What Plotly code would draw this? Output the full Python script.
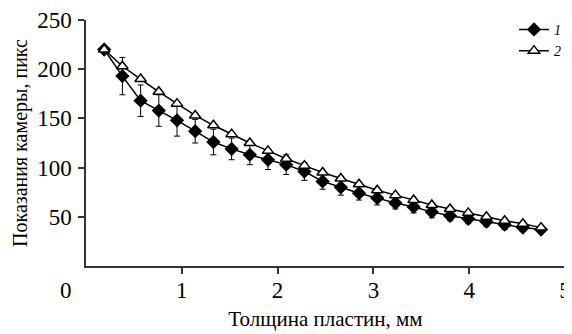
import plotly.graph_objects as go

thickness = [0.19, 0.38, 0.57, 0.76, 0.95, 1.14, 1.33, 1.52, 1.71, 1.90, 2.09, 2.28, 2.47,
             2.66, 2.85, 3.04, 3.23, 3.42, 3.61, 3.80, 3.99, 4.18, 4.37, 4.56, 4.75]
series1 = [220, 193, 168, 158, 148, 137, 126, 119, 113, 108, 103, 96, 86,
           80, 74, 69, 64, 60, 55, 51, 48, 45, 42, 39, 37]
series1_err = [0, 19, 16, 16, 16, 12, 13, 11, 10, 10, 10, 9, 8,
               8, 7, 7, 6, 6, 6, 5, 5, 5, 5, 4, 3]
series2 = [220, 203, 190, 177, 165, 153, 143, 134, 125, 117, 109, 102, 95,
           89, 83, 77, 72, 67, 62, 58, 54, 50, 46, 43, 39]
x_ticks = [1, 2, 3, 4, 5]
y_ticks = [50, 100, 150, 200, 250]

FONT = "Liberation Serif"
# page body has an 8px default margin; compensate so plot area sits at 86..565 x 20..266
W, H = 564, 326
L, R, T, B = 78, 7, 12, 68
PW = W - L - R
fig = go.Figure()
fig.add_trace(go.Scatter(
    x=thickness, y=series1, mode="lines+markers", name="<i>1</i>",
    line=dict(color="black", width=1.5),
    marker=dict(symbol="diamond", size=11, color="black"),
    error_y=dict(type="data", array=series1_err, visible=True, color="black", thickness=1, width=3),
))
fig.add_trace(go.Scatter(
    x=thickness, y=series2, mode="lines+markers", name="<i>2</i>",
    line=dict(color="black", width=1.5),
    marker=dict(symbol="triangle-up", size=10, color="white", line=dict(color="black", width=1.5)),
))
fig.update_layout(
    width=W, height=H,
    margin=dict(l=L, r=R, t=T, b=B, autoexpand=False),
    plot_bgcolor="white", paper_bgcolor="white",
    font=dict(family=FONT, size=21, color="black"),
    showlegend=True,
    legend=dict(x=(514 - 86) / PW, xanchor="left", y=1.025, yanchor="top", bgcolor="rgba(0,0,0,0)",
                font=dict(family=FONT, size=14), tracegroupgap=0, itemwidth=30),
    xaxis=dict(range=[0, 5], tickvals=x_ticks, ticks="outside", ticklen=6, tickwidth=1.5,
               tickcolor="#333", showline=True, linecolor="#333", linewidth=1.5,
               showgrid=False, zeroline=False, ticklabelstandoff=-3, automargin=False,
               tickfont=dict(size=23),
               title=dict(text="Толщина пластин, мм", font=dict(size=21), standoff=9)),
    yaxis=dict(range=[0, 250], tickvals=y_ticks, ticks="outside", ticklen=6, tickwidth=1.5,
               tickcolor="#333", showline=True, linecolor="#333", linewidth=1.5,
               showgrid=False, zeroline=False, ticklabelstandoff=2, automargin=False,
               tickfont=dict(size=23),
               title=dict(text="Показания камеры, пикс", font=dict(size=20), standoff=4)),
    annotations=[dict(text="0", x=(66 - 86) / PW, y=(266 - 290) / (H - T - B),
                      xref="paper", yref="paper", showarrow=False,
                      xanchor="center", yanchor="middle", font=dict(size=23))],
)
fig.write_html("out.html")
